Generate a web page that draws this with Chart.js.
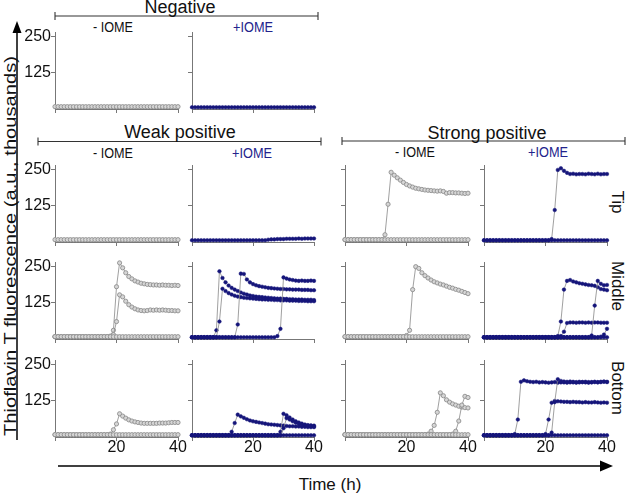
<!DOCTYPE html>
<html>
<head>
<meta charset="utf-8">
<script src="https://cdn.jsdelivr.net/npm/chart.js@4.4.1/dist/chart.umd.min.js"></script>
<style>
  body { margin: 0; background: #fff; }
  #fig { position: relative; width: 628px; height: 493px; overflow: hidden; font-family: "Liberation Sans", Arial, sans-serif; }
  #fig canvas { position: absolute; }
  #fig svg { position: absolute; left: 0; top: 0; }
</style>
</head>
<body>
<div id="fig">
<svg width="628" height="493" font-family="Liberation Sans, Arial, sans-serif">
  <!-- group brackets -->
  <g stroke="#333" stroke-width="1.1">
    <line x1="55" y1="16" x2="318" y2="16"/><line x1="55" y1="12" x2="55" y2="20"/><line x1="318" y1="12" x2="318" y2="20"/>
    <line x1="38" y1="141.5" x2="321" y2="141.5"/><line x1="38" y1="137.5" x2="38" y2="145.5"/><line x1="321" y1="137.5" x2="321" y2="145.5"/>
    <line x1="342" y1="141" x2="625" y2="141"/><line x1="342" y1="137" x2="342" y2="145"/><line x1="625" y1="137" x2="625" y2="145"/>
  </g>
  <text x="180" y="13" font-size="18" text-anchor="middle" fill="#111">Negative</text>
  <text x="180" y="138" font-size="18" text-anchor="middle" fill="#111">Weak positive</text>
  <text x="487" y="139" font-size="18" text-anchor="middle" fill="#111">Strong positive</text>

  <text x="113" y="31.5" font-size="14" text-anchor="middle" fill="#111" textLength="40" lengthAdjust="spacingAndGlyphs">- IOME</text>
  <text x="253" y="31.5" font-size="14" text-anchor="middle" fill="#23238c" textLength="40" lengthAdjust="spacingAndGlyphs">+IOME</text>
  <text x="113" y="157.5" font-size="14" text-anchor="middle" fill="#111" textLength="40" lengthAdjust="spacingAndGlyphs">- IOME</text>
  <text x="252" y="157.5" font-size="14" text-anchor="middle" fill="#23238c" textLength="40" lengthAdjust="spacingAndGlyphs">+IOME</text>
  <text x="415" y="157" font-size="14" text-anchor="middle" fill="#111" textLength="40" lengthAdjust="spacingAndGlyphs">- IOME</text>
  <text x="548" y="157" font-size="14" text-anchor="middle" fill="#23238c" textLength="40" lengthAdjust="spacingAndGlyphs">+IOME</text>

  <!-- y axis arrow and title -->
  <line x1="17" y1="440" x2="17" y2="30" stroke="#000" stroke-width="1.5"/>
  <polygon points="17,21 12.5,33 21.5,33" fill="#000"/>
  <text transform="translate(15.5,246) rotate(-90)" font-size="17" text-anchor="middle" fill="#111" textLength="380" lengthAdjust="spacingAndGlyphs">Thioflavin T fluorescence (a.u., thousands)</text>

  <!-- x axis arrow and title -->
  <line x1="58" y1="466" x2="602" y2="466" stroke="#000" stroke-width="1.6"/>
  <polygon points="613,466 600,460.5 600,471.5" fill="#000"/>
  <text x="330" y="490" font-size="17" text-anchor="middle" fill="#111">Time (h)</text>

  <!-- row labels -->
  <text transform="translate(612,202) rotate(90)" font-size="17" text-anchor="middle" fill="#111">Tip</text>
  <text transform="translate(612,286) rotate(90)" font-size="17" text-anchor="middle" fill="#111">Middle</text>
  <text transform="translate(612,388) rotate(90)" font-size="17" text-anchor="middle" fill="#111">Bottom</text>
</svg>
</div>

<script>
// time axis (h)
var hours = [0,1,2,3,4,5,6,7,8,9, 10,11,12,13,14,15,16,17,18,19, 20,21,22,23,24,25,26,27,28,29, 30,31,32,33,34,35,36,37,38,39, 40];
var yTicks = [125, 250];
var xTicks = [0, 20, 40];

// ---- Negative
var negMinus = [8,8,8,8,8,8,8,8,8,8, 8,8,8,8,8,8,8,8,8,8, 8,8,8,8,8,8,8,8,8,8, 8,8,8,8,8,8,8,8,8,8, 8];
var negPlus  = [6,6,6,6,6,6,6,6,6,6, 6,6,6,6,6,6,6,6,6,6, 6,6,6,6,6,6,6,6,6,6, 6,6,6,6,6,6,6,6,6,6, 6];

// ---- Weak positive
var weakTipMinus = [8,8,8,8,8,8,8,8,8,8, 8,8,8,8,8,8,8,8,8,8, 8,8,8,8,8,8,8,8,8,8, 8,8,8,8,8,8,8,8,8,8, 8];
var weakTipPlus  = [6,6,6,6,6,6,6,6,6,6, 6,6,6,6,6,6,6,6,6,6, 6,6,6,6,6,8,9,9,10,10, 10,11,11,11,11,12,11,12,12,12, 12];

var weakMidMinus1 = [8,8,8,8,8,8,8,8,8,8, 8,8,8,8,8,8,8,8,10,30, 180,262,245,228,215,207,200,196,192,190, 188,187,186,186,185,186,185,185,184,185, 184];
var weakMidMinus2 = [8,8,8,8,8,8,8,8,8,8, 8,8,8,8,8,8,8,8,8,15, 60,152,145,130,118,110,104,100,98,97, 98,100,99,100,99,100,99,98,98,97, 97];
var weakMidMinus3 = [8,8,8,8,8,8,8,8,8,8, 8,8,8,8,8,8,8,8,8,8, 8,8,8,8,8,8,8,8,8,8, 8,8,8,8,8,8,8,8,8,8, 8];
var weakMidPlusA = [6,6,6,6,6,6,6,6,30,233, 210,195,184,176,170,165,160,156,153,150, 148,146,145,144,143,142,141,140,139,139, 138,138,137,137,136,136,136,135,135,135, 134];
var weakMidPlusB = [6,6,6,6,6,6,6,6,6,60, 173,165,158,153,149,146,144,142,141,140, 139,138,137,136,136,135,135,134,134,133, 133,133,132,132,132,131,131,131,130,130, 130];
var weakMidPlusC = [6,6,6,6,6,6,6,6,6,6, 6,6,6,6,6,50,225,224,205,195, 189,185,182,180,178,176,175,174,173,172, 172,171,171,170,170,170,169,169,169,168, 168];
var weakMidPlusD = [6,6,6,6,6,6,6,6,6,6, 6,6,6,6,6,6,6,6,6,6, 6,6,6,6,6,6,6,6,10,35, 212,208,205,203,201,200,201,200,200,201, 200];

var weakBotMinusA = [8,8,8,8,8,8,8,8,8,8, 8,8,8,8,8,8,8,8,10,25, 45,80,72,65,59,55,52,50,48,47, 47,47,47,47,48,48,48,49,50,50, 50];
var weakBotMinusB = [8,8,8,8,8,8,8,8,8,8, 8,8,8,8,8,8,8,8,8,8, 8,8,8,8,8,8,8,8,8,8, 8,8,8,8,8,8,8,8,8,8, 8];
var weakBotPlusA = [6,6,6,6,6,6,6,6,6,6, 6,6,6,18,48,77,71,66,61,57, 54,52,50,48,46,44,43,42,41,40, 39,38,37,37,36,36,35,35,34,34, 34];
var weakBotPlusB = [6,6,6,6,6,6,6,6,6,6, 6,6,6,6,6,6,6,6,6,6, 6,6,6,6,6,6,6,6,6,18, 80,75,67,60,54,50,46,43,41,40, 39];
var weakBotPlusC = [6,6,6,6,6,6,6,6,6,6, 6,6,6,6,6,6,6,6,6,6, 6,6,6,6,6,6,6,6,6,6, 30,65,60,54,49,45,42,40,38,37, 36];
var weakBotPlusD = [6,6,6,6,6,6,6,6,6,6, 6,6,6,6,6,6,6,6,6,6, 6,6,6,6,6,6,6,6,6,6, 6,6,6,6,6,6,6,6,6,6, 6];

// ---- Strong positive
var strongTipMinusA = [8,8,8,8,8,8,8,8,8,8, 8,8,8,25,130,240,230,221,213,205, 198,193,189,185,183,181,179,178,177,176, 175,176,174,168,170,170,169,169,168,167, 168];
var strongTipMinusB = [8,8,8,8,8,8,8,8,8,8, 8,8,8,8,8,8,8,8,8,8, 8,8,8,8,8,8,8,8,8,8, 8,8,8,8,8,8,8,8,8,8, 8];
var strongTipPlusA = [6,6,6,6,6,6,6,6,6,6, 6,6,6,6,6,6,6,6,6,6, 6,6,10,110,248,254,245,238,234,235, 233,234,234,233,235,234,233,235,233,234, 234];
var strongTipPlusB = [6,6,6,6,6,6,6,6,6,6, 6,6,6,6,6,6,6,6,6,6, 6,6,6,6,6,6,6,6,6,6, 6,6,6,6,6,6,6,6,6,6, 6];

var strongMidMinusA = [8,8,8,8,8,8,8,8,8,8, 8,8,8,8,8,8,8,8,8,8, 12,30,170,249,243,228,218,210,203,197, 193,189,186,182,178,175,171,168,164,160, 156];
var strongMidMinusB = [8,8,8,8,8,8,8,8,8,8, 8,8,8,8,8,8,8,8,8,8, 8,8,8,8,8,8,8,8,8,8, 8,8,8,8,8,8,8,8,8,8, 8];
var strongMidPlusA = [6,6,6,6,6,6,6,6,6,6, 6,6,6,6,6,6,6,6,6,6, 6,6,6,6,10,60,170,200,203,198, 195,192,190,188,186,185,183,178,172,170, 168];
var strongMidPlusB = [6,6,6,6,6,6,6,6,6,6, 6,6,6,6,6,6,6,6,6,6, 6,6,6,6,6,10,25,55,57,57, 56,57,57,56,57,56,57,57,56,56, 56];
var strongMidPlusC = [6,6,6,6,6,6,6,6,6,6, 6,6,6,6,6,6,6,6,6,6, 6,6,6,6,6,6,6,6,6,6, 6,6,6,6,6,12,115,200,190,185, 186];
var strongMidPlusD = [6,6,6,6,6,6,6,6,6,6, 6,6,6,6,6,6,6,6,6,6, 6,6,6,6,6,6,6,6,6,6, 6,6,6,6,6,6,6,6,8,15, 35];
var strongMidPlusE = [6,6,6,6,6,6,6,6,6,6, 6,6,6,6,6,6,6,6,6,6, 6,6,6,6,6,6,6,6,6,6, 6,6,6,6,6,6,6,6,6,6, 6];

var strongBotMinusA = [8,8,8,8,8,8,8,8,8,8, 8,8,8,8,8,8,8,8,8,8, 8,8,8,8,8,8,8,10,20,40, 85,152,142,128,120,114,110,106,103,101, 100];
var strongBotMinusB = [8,8,8,8,8,8,8,8,8,8, 8,8,8,8,8,8,8,8,8,8, 8,8,8,8,8,8,8,8,8,8, 8,8,8,8,8,10,20,55,110,140, 136];
var strongBotMinusC = [8,8,8,8,8,8,8,8,8,8, 8,8,8,8,8,8,8,8,8,8, 8,8,8,8,8,8,8,8,8,8, 8,8,8,8,8,8,8,8,8,8, 8];
var strongBotPlusA = [6,6,6,6,6,6,6,6,6,6, 10,60,190,195,192,190,189,190,188,189, 188,187,188,189,187,188,188,187,188,188, 187,188,189,188,187,188,189,188,189,190, 189];
var strongBotPlusB1 = [6,6,6,6,6,6,6,6,6,6, 6,6,6,6,6,6,6,6,6,6, 10,60,118,124,123,122,121,121,120,121, 120,120,119,120,119,119,120,119,118,119, 118];
var strongBotPlusB2 = [6,6,6,6,6,6,6,6,6,6, 6,6,6,6,6,6,6,6,6,6, 6,6,15,120,199,193,191,190,191,190, 189,190,189,190,189,189,190,189,190,191, 190];
var strongBotPlusC = [6,6,6,6,6,6,6,6,6,6, 6,6,6,6,6,6,6,6,6,6, 6,6,6,6,6,6,6,6,6,6, 6,6,6,6,6,6,6,6,6,6, 6];

// plot boxes: [left, right] per column, [top, bottom] per row (pixels of the chart area)
var cols = [[55, 178], [192, 314], [345, 468], [484, 607]];
var rows = { neg: [29, 109], tip: [162, 242], mid: [259, 339], bot: [357, 437] };

var navy = '#15157a';

function makePanel(col, row, series, plus, showY, showX) {
  var padL = 40, padT = 6, padR = 12, xH = 22;
  var c = cols[col], r = rows[row];
  var canvas = document.createElement('canvas');
  canvas.width = (c[1] - c[0]) + padL + padR;
  canvas.height = (r[1] - r[0]) + padT + xH;
  canvas.style.left = (c[0] - padL) + 'px';
  canvas.style.top = (r[0] - padT) + 'px';
  document.getElementById('fig').appendChild(canvas);

  var datasets = series.map(function(vals) {
    return {
      data: hours.map(function(h, i) { return { x: h, y: vals[i] }; }),
      borderColor: '#888',
      borderWidth: 0.8,
      pointRadius: plus ? 1.8 : 2.1,
      pointBackgroundColor: plus ? navy : '#d6d6d6',
      pointBorderColor: plus ? navy : '#8e8e8e',
      pointBorderWidth: plus ? 0.5 : 0.9,
      tension: 0,
      clip: false
    };
  });

  new Chart(canvas, {
    type: 'line',
    data: { datasets: datasets },
    options: {
      responsive: false,
      animation: false,
      devicePixelRatio: 1,
      events: [],
      layout: { padding: { left: 0, top: padT, right: padR, bottom: 0 } },
      plugins: { legend: { display: false }, tooltip: { enabled: false } },
      scales: {
        x: {
          type: 'linear', min: 0, max: 40,
          afterBuildTicks: function(s) { s.ticks = xTicks.map(function(v) { return { value: v }; }); },
          afterFit: function(s) { s.height = xH; },
          grid: { drawOnChartArea: false, tickLength: 4, color: '#777' },
          border: { color: '#777', width: 1 },
          ticks: {
            padding: -3, maxRotation: 0, autoSkip: false,
            color: showX ? '#111' : 'rgba(0,0,0,0)',
            font: { family: 'Liberation Sans, Arial, sans-serif', size: 16 },
            callback: function(v) { return v === 0 ? '' : v; }
          }
        },
        y: {
          min: 0, max: 263,
          afterBuildTicks: function(s) { s.ticks = yTicks.map(function(v) { return { value: v }; }); },
          afterFit: function(s) { s.width = padL; },
          grid: { drawOnChartArea: false, tickLength: 4, color: '#777' },
          border: { color: '#777', width: 1 },
          ticks: {
            padding: 0,
            color: showY ? '#111' : 'rgba(0,0,0,0)',
            font: { family: 'Liberation Sans, Arial, sans-serif', size: 16 }
          }
        }
      }
    }
  });
}

makePanel(0, 'neg', [negMinus], false, true, false);
makePanel(1, 'neg', [negPlus], true, false, false);

makePanel(0, 'tip', [weakTipMinus], false, true, false);
makePanel(1, 'tip', [weakTipPlus], true, false, false);
makePanel(0, 'mid', [weakMidMinus3, weakMidMinus2, weakMidMinus1], false, true, false);
makePanel(1, 'mid', [weakMidPlusD, weakMidPlusC, weakMidPlusB, weakMidPlusA], true, false, false);
makePanel(0, 'bot', [weakBotMinusB, weakBotMinusA], false, true, true);
makePanel(1, 'bot', [weakBotPlusD, weakBotPlusC, weakBotPlusB, weakBotPlusA], true, false, true);

makePanel(2, 'tip', [strongTipMinusB, strongTipMinusA], false, false, false);
makePanel(3, 'tip', [strongTipPlusB, strongTipPlusA], true, false, false);
makePanel(2, 'mid', [strongMidMinusB, strongMidMinusA], false, false, false);
makePanel(3, 'mid', [strongMidPlusE, strongMidPlusD, strongMidPlusC, strongMidPlusB, strongMidPlusA], true, false, false);
makePanel(2, 'bot', [strongBotMinusC, strongBotMinusB, strongBotMinusA], false, false, true);
makePanel(3, 'bot', [strongBotPlusC, strongBotPlusB2, strongBotPlusB1, strongBotPlusA], true, false, true);
</script>
</body>
</html>
